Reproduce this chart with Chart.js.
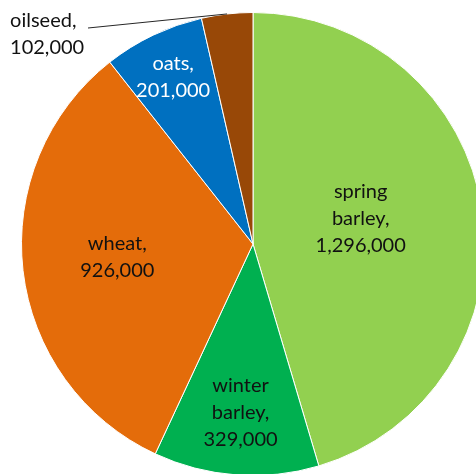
<!DOCTYPE html>
<html>
<head>
<meta charset="utf-8">
<script src="https://cdn.jsdelivr.net/npm/chart.js@4"></script>
<style>
  html, body { margin: 0; padding: 0; background: #fff; overflow: hidden; }
  #wrap { width: 500px; height: 500px; }
</style>
</head>
<body>
<div id="wrap"><canvas id="crops" width="500" height="500"></canvas></div>
<script>
// crop areas (hectares), clockwise from 12 o'clock
const categories = ['spring barley', 'winter barley', 'wheat', 'oats', 'oilseed'];
const areas = [1296000, 329000, 926000, 201000, 102000];
const sliceColors = ['#92D050', '#00B050', '#E46C0A', '#0070C0', '#984807'];

// label placement per slice: fraction of radius along mid-angle, plus nudges
const labelPlaces = [
    { frac: 0.47, dx: 0, dy: -10, color: '#111111' },
    { frac: 0.73, dx: 0, dy: 0, color: '#111111' },
    { frac: 0.59, dx: 0, dy: -3, color: '#111111' },
    { frac: 0.80, dx: 0, dy: 0, color: '#ffffff' },
    { outside: true, dx: -217, dy: 7, lineTo: [88, 28], color: '#111111' }
];

function fmt(n) {
    return n.toLocaleString('en-US');
}

function labelLines(i) {
    const name = categories[i];
    const parts = name.split(' ');
    if (parts.length > 1) return [parts[0], parts.slice(1).join(' ') + ',', fmt(areas[i])];
    return [name + ',', fmt(areas[i])];
}

const sliceLabels = {
    id: 'sliceLabels',
    afterDatasetsDraw(chart) {
        const ctx = chart.ctx;
        const meta = chart.getDatasetMeta(0);
        const lh = 27;
        ctx.save();
        ctx.font = '20px Lato';
        ctx.textBaseline = 'middle';
        meta.data.forEach((arc, i) => {
            const p = arc.getProps(['x', 'y', 'startAngle', 'endAngle', 'outerRadius'], true);
            const mid = (p.startAngle + p.endAngle) / 2;
            const cfg = labelPlaces[i];
            const lines = labelLines(i);
            ctx.fillStyle = cfg.color;
            if (cfg.outside) {
                const ex = p.x + Math.cos(mid) * p.outerRadius;
                const ey = p.y + Math.sin(mid) * p.outerRadius;
                ctx.strokeStyle = '#262626';
                ctx.lineWidth = 1;
                ctx.beginPath();
                ctx.moveTo(ex, ey);
                ctx.lineTo(cfg.lineTo[0], cfg.lineTo[1]);
                ctx.stroke();
                ctx.textAlign = 'left';
                lines.forEach((t, k) => ctx.fillText(t, ex + cfg.dx, ey + cfg.dy + k * lh));
            } else {
                const cx = p.x + Math.cos(mid) * p.outerRadius * cfg.frac + cfg.dx;
                const cy = p.y + Math.sin(mid) * p.outerRadius * cfg.frac + cfg.dy;
                ctx.textAlign = 'center';
                const top = cy - (lines.length - 1) * lh / 2;
                lines.forEach((t, k) => ctx.fillText(t, cx, top + k * lh));
            }
        });
        ctx.restore();
    }
};

new Chart(document.getElementById('crops').getContext('2d'), {
    type: 'pie',
    data: {
        labels: categories,
        datasets: [{
            data: areas,
            backgroundColor: sliceColors,
            borderColor: '#ffffff',
            borderWidth: 1
        }]
    },
    options: {
        responsive: false,
        animation: false,
        layout: { padding: { left: 21, right: 15, top: 12, bottom: 24 } },
        plugins: { legend: { display: false }, tooltip: { enabled: false } }
    },
    plugins: [sliceLabels]
});
</script>
</body>
</html>
